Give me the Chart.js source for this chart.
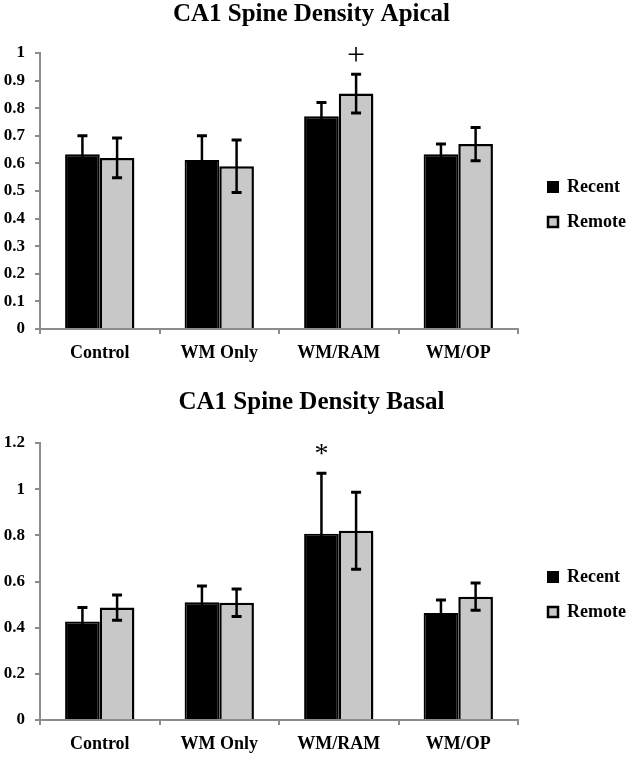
<!DOCTYPE html>
<html>
<head>
<meta charset="utf-8">
<script src="https://cdn.jsdelivr.net/npm/chart.js@4.4.1/dist/chart.umd.min.js"></script>
<style>
  html, body { margin: 0; padding: 0; background: #fff; }
  canvas { display: block; }
</style>
</head>
<body>
<canvas id="apicalChart" width="629" height="370"></canvas>
<canvas id="basalChart" width="629" height="387"></canvas>
<script>
// ===== DATA =====
const groups = ['Control', 'WM Only', 'WM/RAM', 'WM/OP'];
const seriesNames = ['Recent', 'Remote'];

const apicalRecent = [0.633, 0.612, 0.771, 0.633];
const apicalRecentErr = [0.067, 0.088, 0.05, 0.037];
const apicalRemote = [0.62, 0.59, 0.853, 0.67];
const apicalRemoteErr = [0.072, 0.095, 0.07, 0.06];
const apicalRecentMarks = ['', '', '', ''];
const apicalRemoteMarks = ['', '', '+', ''];
const apicalTicks = [0, 0.1, 0.2, 0.3, 0.4, 0.5, 0.6, 0.7, 0.8, 0.9, 1];

const basalRecent = [0.427, 0.51, 0.807, 0.464];
const basalRecentErr = [0.06, 0.07, 0.262, 0.056];
const basalRemote = [0.487, 0.508, 0.82, 0.534];
const basalRemoteErr = [0.055, 0.06, 0.167, 0.059];
const basalRecentMarks = ['', '', '*', ''];
const basalRemoteMarks = ['', '', '', ''];
const basalTicks = [0, 0.2, 0.4, 0.6, 0.8, 1, 1.2];

const SERIF = "'Liberation Serif', 'Times New Roman', serif";
const AXIS = '#8c8c8c';

// ===== PLUGINS =====
// error bars + significance marks, positioned from the y scale
const errorBars = {
  id: 'errorBars',
  afterDatasetsDraw(chart, args, opts) {
    const ctx = chart.ctx;
    const y = chart.scales.y;
    ctx.save();
    ctx.strokeStyle = '#000';
    ctx.fillStyle = '#000';
    chart.data.datasets.forEach((ds, i) => {
      chart.getDatasetMeta(i).data.forEach((bar, j) => {
        const v = ds.data[j], e = ds.errors[j];
        const top = y.getPixelForValue(v + e);
        const bot = y.getPixelForValue(v - e);
        ctx.lineWidth = 2.5;
        ctx.beginPath();
        ctx.moveTo(bar.x, top); ctx.lineTo(bar.x, bot);
        ctx.stroke();
        ctx.lineWidth = 3;
        ctx.beginPath();
        ctx.moveTo(bar.x - 5, top); ctx.lineTo(bar.x + 5, top);
        ctx.moveTo(bar.x - 5, bot); ctx.lineTo(bar.x + 5, bot);
        ctx.stroke();
        const mark = ds.marks[j];
        if (mark) {
          ctx.font = opts.markFont;
          ctx.textAlign = 'center';
          ctx.textBaseline = 'middle';
          ctx.fillText(mark, bar.x, top - opts.gap);
        }
      });
    });
    ctx.restore();
  }
};

// move the legend so its first box sits at (x, y)
const legendAt = {
  id: 'legendAt',
  afterLayout(chart, args, opts) {
    const lg = chart.legend;
    if (!lg || !lg.columnSizes || !lg.columnSizes.length) return;
    const pad = lg.options.labels.padding;
    const fs = lg.options.labels.font.size;
    const dx = opts.x - (lg.left + pad);
    const curY = (lg.top + pad + lg.bottom - lg.columnSizes[0].height) / 2;
    const dy = (opts.y - fs / 2) - curY;
    lg.left += dx; lg.right += dx;
    lg.top += dy; lg.bottom += dy;
  }
};

function buildChart(el, cfg) {
  return new Chart(el, {
    type: 'bar',
    data: {
      labels: groups,
      datasets: [{
        label: seriesNames[0],
        data: cfg.recent,
        errors: cfg.recentErr,
        marks: cfg.recentMarks,
        backgroundColor: '#000',
        borderColor: '#000',
        borderWidth: 2
      }, {
        label: seriesNames[1],
        data: cfg.remote,
        errors: cfg.remoteErr,
        marks: cfg.remoteMarks,
        backgroundColor: '#c8c8c8',
        borderColor: '#000',
        borderWidth: 2.5
      }]
    },
    options: {
      responsive: false,
      devicePixelRatio: 1,
      animation: false,
      events: [],
      layout: { padding: { left: 0, right: 6, top: 0, bottom: 0 } },
      datasets: { bar: { categoryPercentage: 0.58, barPercentage: 1 } },
      plugins: {
        title: {
          display: true, text: cfg.title, color: '#000',
          font: { family: SERIF, size: 25, weight: 'bold' },
          padding: cfg.titlePad
        },
        legend: {
          position: 'right',
          labels: {
            color: '#000', boxWidth: 10, boxHeight: 10, padding: 17,
            font: { family: SERIF, size: 18, weight: 'bold' }
          }
        },
        tooltip: { enabled: false },
        legendAt: { x: 548, y: cfg.legendY },
        errorBars: { gap: cfg.markGap, markFont: cfg.markFont }
      },
      scales: {
        x: {
          grid: { drawOnChartArea: false, color: AXIS, lineWidth: 2, tickLength: 5 },
          border: { color: AXIS, width: 2 },
          ticks: { color: '#000', padding: 9, font: { family: SERIF, size: 18, weight: 'bold' } },
          afterFit: s => { s.height = cfg.xAxisHeight; }
        },
        y: {
          min: 0, max: cfg.max,
          grid: { drawOnChartArea: false, color: AXIS, lineWidth: 2, tickLength: 5 },
          border: { color: AXIS, width: 2 },
          ticks: {
            color: '#000', padding: 10,
            font: { family: SERIF, size: 17, weight: 'bold' },
            callback: v => String(Math.round(v * 10) / 10)
          },
          afterBuildTicks: s => { s.ticks = cfg.ticks.map(v => ({ value: v })); },
          afterFit: s => { s.width = 40; }
        }
      }
    },
    plugins: [errorBars, legendAt]
  });
}

// ===== APICAL =====
buildChart(document.getElementById('apicalChart'), {
  title: 'CA1 Spine Density Apical',
  recent: apicalRecent, recentErr: apicalRecentErr, recentMarks: apicalRecentMarks,
  remote: apicalRemote, remoteErr: apicalRemoteErr, remoteMarks: apicalRemoteMarks,
  ticks: apicalTicks, max: 1,
  titlePad: { top: 0, bottom: 23 },
  xAxisHeight: 41,
  legendY: 187,
  markGap: 18,
  markFont: "normal 32px " + SERIF
});

// ===== BASAL =====
buildChart(document.getElementById('basalChart'), {
  title: 'CA1 Spine Density Basal',
  recent: basalRecent, recentErr: basalRecentErr, recentMarks: basalRecentMarks,
  remote: basalRemote, remoteErr: basalRemoteErr, remoteMarks: basalRemoteMarks,
  ticks: basalTicks, max: 1.2,
  titlePad: { top: 18, bottom: 25 },
  xAxisHeight: 37,
  legendY: 207,
  markGap: 19,
  markFont: "normal 28px " + SERIF
});
</script>
</body>
</html>
